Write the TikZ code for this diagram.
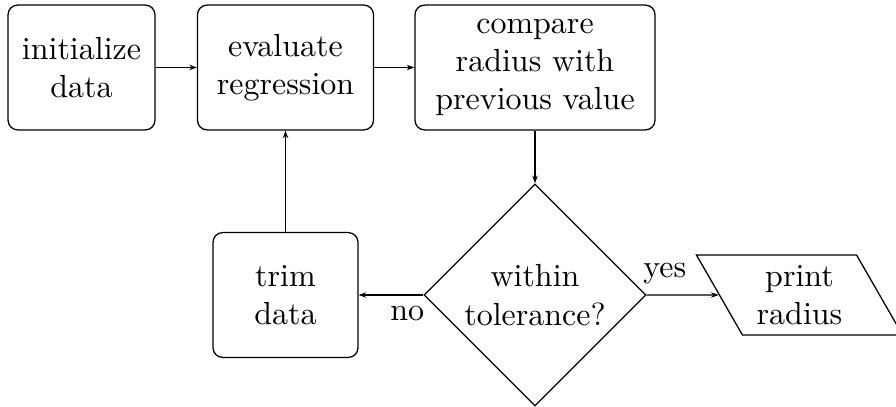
\documentclass[tikz,border=0pt]{standalone}
\usetikzlibrary{shapes.geometric,arrows.meta}
\begin{document}
\begin{tikzpicture}[x=0.3125pt,y=-0.3125pt,
  font=\fontsize{10}{12}\selectfont,
  box/.style={draw, rounded corners=3pt, align=center, inner sep=0pt},
  decision/.style={draw, diamond, aspect=1, align=center, inner sep=0pt},
  io/.style={draw, trapezium, trapezium left angle=120, trapezium right angle=60,
    trapezium stretches=true, align=center, inner sep=0pt},
  link/.style={-{Stealth[length=2.4pt,width=1.7pt]}}]
\useasboundingbox (0,0) rectangle (896,407);
\node[box, minimum width=45.9pt, minimum height=39pt] (init) at (81.5,67.5) {initialize\\data};
\node[box, minimum width=55pt, minimum height=39pt] (eval) at (285.5,67.5) {evaluate\\regression};
\node[box, minimum width=75pt, minimum height=39pt] (cmp) at (535,67.5) {compare\\radius with\\previous value};
\node[decision, minimum width=69.4pt, minimum height=69.4pt] (dec) at (535,295) {within\\tolerance?};
\node[box, minimum width=45.3pt, minimum height=39pt] (trim) at (285.5,295) {trim\\data};
\node[io, minimum width=64.7pt, minimum height=25pt] (out) at (799.5,295) {print\\radius};
\draw[link] (init) -- (eval);
\draw[link] (eval) -- (cmp);
\draw[link] (cmp) -- (dec);
\draw[link] (dec) -- node[near start, above] {yes} (out);
\draw[link] (dec) -- node[near start, below] {no} (trim);
\draw[link] (trim) -- (eval);
\end{tikzpicture}
\end{document}
